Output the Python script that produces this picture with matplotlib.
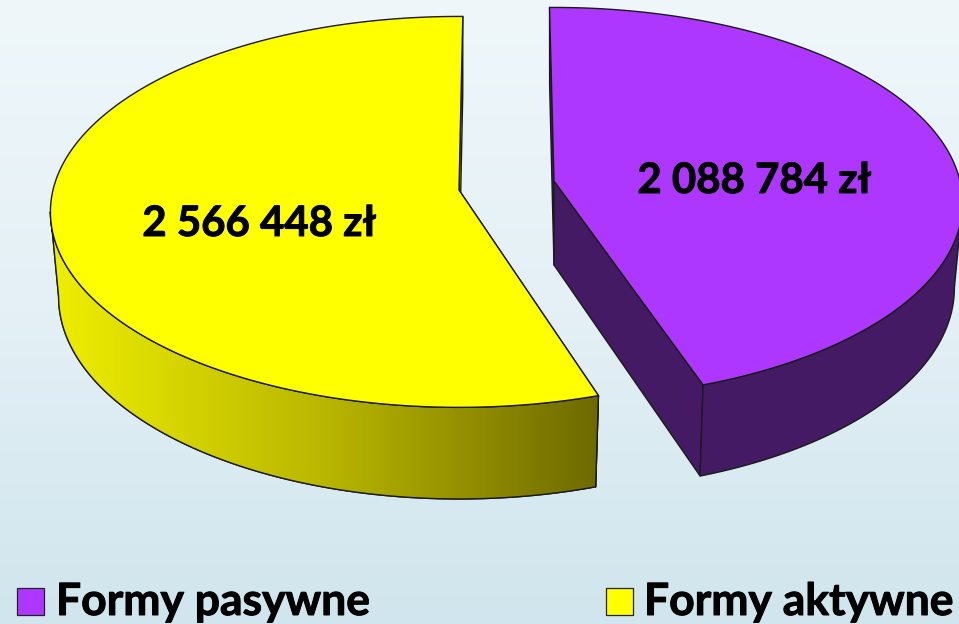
"""Exploded two-slice 3D pie, drawn in pixel coordinates with a small perspective model."""
import matplotlib

matplotlib.use("Agg")
import matplotlib.patheffects as pe
import matplotlib.pyplot as plt
import numpy as np
from matplotlib.colors import LinearSegmentedColormap
from matplotlib.patches import Polygon, Rectangle

W, H = 959, 624

# --- data ---
LABELS = ["Formy pasywne", "Formy aktywne"]
VALUES = [2088784, 2566448]
VALUE_TEXT = ["2 088 784 zł", "2 566 448 zł"]
TOP_COLORS = ["#AE37FF", "#FFFF00"]
FACE_COLORS = ["#431A63", "#C8C800"]

# --- perspective knobs ---
R, RB, K = 406, 193, 0.112
R_LOW, RB_LOW = 0.98, 1.035
DEPTH = 84
SILHOUETTE = np.degrees(np.arcsin(K))  # where the rim turns away from the viewer


def rim(theta, cx, cy, low=False):
    t = np.radians(theta)
    w = 1 + K * np.sin(t)
    sx, sy = (R_LOW, RB_LOW) if low else (1, 1)
    return np.column_stack([cx + sx * R * np.cos(t) / w,
                            cy + (DEPTH if low else 0) - sy * RB * np.sin(t) / w])


def side_and_top(ax, cx, cy, a0, a1, wall_from, top, face, zorder, gradient=None):
    th = np.linspace(a0, a1, 300)
    upper = rim(th, cx, cy)
    apex = np.array([[cx, cy]])
    apex_low = np.array([[cx, cy + DEPTH]])
    line = dict(edgecolor="#1A1A1A", linewidth=1.0, joinstyle="round")

    # radial faces
    for end in (0, -1):
        pts = np.vstack([apex, upper[[end]], rim(th, cx, cy, low=True)[[end]], apex_low])
        ax.add_patch(Polygon(pts, facecolor=face, zorder=zorder, **line))

    # outer wall, only the part facing the viewer
    th_wall = np.linspace(wall_from, a1, 300)
    wall_pts = np.vstack([rim(th_wall, cx, cy), rim(th_wall, cx, cy, low=True)[::-1]])
    wall = Polygon(wall_pts, facecolor=face, zorder=zorder + 1, **line)
    ax.add_patch(wall)
    if gradient is not None:
        im = ax.imshow(np.linspace(0, 1, 256)[None, :], cmap=gradient, aspect="auto",
                       extent=(cx - R, upper[-1, 0], H, 0), zorder=zorder + 1.1)
        im.set_clip_path(wall)
        ax.add_patch(Polygon(wall_pts, fill=False, zorder=zorder + 1.2, **line))

    # top disc
    ax.add_patch(Polygon(np.vstack([apex, upper]), facecolor=top, zorder=zorder + 2, **line))


def main():
    fig = plt.figure(figsize=(W / 100, H / 100), dpi=100)
    ax = fig.add_axes([0, 0, 1, 1])

    bg = LinearSegmentedColormap.from_list("bg", ["#EFF7FA", "#E4F0F6", "#D0E5ED"])
    ax.imshow(np.linspace(0, 1, 256)[:, None], cmap=bg, aspect="auto", extent=(0, W, H, 0), zorder=0)

    sweeps = 360 * np.array(VALUES) / sum(VALUES)
    wall_grad = LinearSegmentedColormap.from_list("wall", ["#EEEE00", "#B9B600", "#6E6A00"])

    # yellow slice runs counter-clockwise from the top, purple clockwise
    side_and_top(ax, 459, 190, 89.4, 89.4 + sweeps[1], 180 + SILHOUETTE,
                 TOP_COLORS[1], FACE_COLORS[1], 2, wall_grad)
    side_and_top(ax, 554, 181, 90.7, 90.7 - sweeps[0], -SILHOUETTE,
                 TOP_COLORS[0], FACE_COLORS[0], 6)

    heavy = [pe.withStroke(linewidth=0.7, foreground="black")]
    text = dict(family="Lato", weight="bold", color="black", va="center", zorder=12,
                path_effects=heavy)
    ax.text(754, 181, VALUE_TEXT[0], ha="center", fontsize=30.2, **text)
    ax.text(259, 224, VALUE_TEXT[1], ha="center", fontsize=30.2, **text)

    for x_box, x_txt, label, color in zip((17, 606), (56, 644), LABELS, TOP_COLORS):
        ax.add_patch(Rectangle((x_box, 588), 27, 27, facecolor=color, edgecolor="#222222",
                               linewidth=0.9, zorder=12))
        ax.text(x_txt, 602, label, ha="left", fontsize=32, **text)

    ax.set_xlim(0, W)
    ax.set_ylim(H, 0)
    ax.axis("off")
    fig.savefig("out.png", dpi=100)


if __name__ == "__main__":
    main()
